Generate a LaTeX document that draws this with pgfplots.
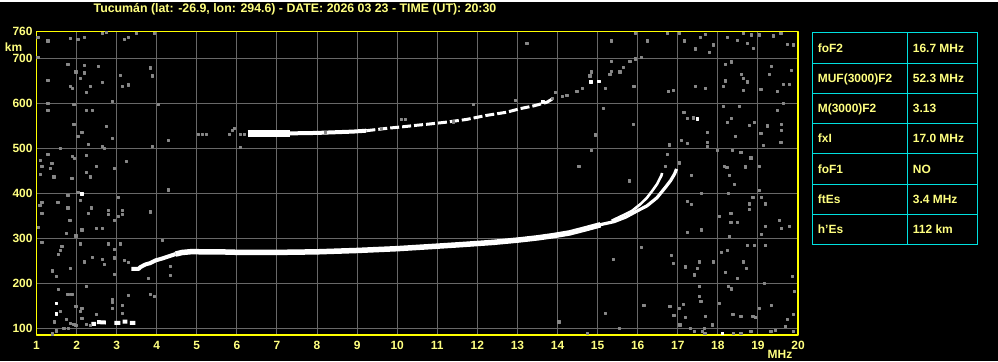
\documentclass[border=0pt]{standalone}
\usepackage{fontspec}
\setmainfont{Liberation Sans}
\usepackage{pgfplots}
\pgfplotsset{compat=1.18}
\definecolor{ylw}{RGB}{255,255,0}
\definecolor{ltxt}{RGB}{255,255,128}
\definecolor{gridc}{RGB}{104,104,104}
\definecolor{noise}{RGB}{135,135,135}
\definecolor{cyanb}{RGB}{0,224,224}
\begin{document}
\begin{tikzpicture}[x=1bp,y=1bp]
\fill[black] (0,0) rectangle (998,359);
\begin{axis}[
  at={(36.5bp,26bp)}, anchor=south west, scale only axis,
  width=761.5bp, height=303.5bp,
  xmin=1, xmax=20, ymin=86, ymax=760,
  xtick={1,...,20}, ytick={100,200,300,400,500,600,700,760},
  grid=major, major grid style={gridc, line width=1bp},
  axis line style={ylw, line width=1.3bp},
  major tick length=0pt,
  tick label style={font=\bfseries\fontsize{12}{12}\selectfont, text=ltxt},
  /pgf/number format/assume math mode=true,
  xticklabel style={yshift=-3bp},
  yticklabel style={xshift=-0.5bp},
  unbounded coords=jump,
  line cap=butt, line join=round,
]
% noise
\addplot[only marks, mark=square*, mark size=1.1bp, mark options={draw=noise, line width=0.4bp, fill=noise}] coordinates {
(1.03,748)(1.28,740)(1.84,746)(2.03,744)(2.19,748)(2.63,757)(2.73,758)(3.18,744)(3.29,748)(3.49,757)(3.94,756)(1.03,703)(1.78,688)(2.19,686)(2.19,669)(2.54,684)(1.98,671)(2.09,657)(3.09,664)(3.29,642)(3.14,639)(2.64,648)(2.34,639)(1.84,639)(1.89,635)(2.24,626)(1.28,653)(3.84,680)(3.88,662)(2.89,606)(1.28,601)(4.03,598)(1.93,598)(1.28,586)(2.24,586)(2.39,586)(2.73,550)(1.93,555)(2.13,537)(2.03,528)(2.89,523)(2.28,510)(1.59,501)(2.64,505)(2.69,501)(3.88,505)(4.28,519)(1.28,488)(2.24,485)(1.89,483)(1.94,479)(1.09,474)(1.38,468)(1.13,461)(1.34,456)(3.24,472)(2.49,461)(2.94,456)(2.24,447)(2.34,438)(1.09,443)(1.43,438)
(5.03,532)(5.13,532)(5.23,532)(5.80,532)(5.88,541)(5.93,546)(6.08,532)(6.19,532)(6.08,503)
(1.88,434)(2.03,404)(1.78,396)(3.03,392)(1.13,382)(1.53,382)(1.08,374)(2.09,386)(2.37,369)(2.28,357)(1.78,369)(2.78,364)(2.78,354)(3.13,364)(3.13,355)(3.03,351)(1.13,356)(3.83,360)(1.83,342)(2.94,342)(1.04,325)(2.13,320)(2.48,324)(2.64,324)(1.74,313)(1.98,307)(1.13,293)(2.09,289)(2.78,289)(3.09,289)(4.28,409)(4.13,297)(1.63,284)(1.59,275)(1.54,265)(2.94,276)(2.94,258)(2.39,259)(2.64,255)(2.19,249)(2.69,243)(3.19,252)(3.29,248)(1.84,235)(1.39,229)(1.49,217)(2.94,222)(3.79,213)(4.33,239)(4.33,219)(2.24,194)(1.54,188)(1.78,177)(1.88,177)(3.29,175)(3.84,177)(3.93,172)(2.88,165)(2.88,160)(1.98,151)(2.13,146)(2.09,139)(2.88,145)(3.14,152)(3.14,135)(1.59,139)(1.74,121)(1.44,116)(1.84,113)(1.79,101)(1.49,96)(1.68,101)(1.39,89)(1.93,110)(1.98,108)(2.13,124)(2.49,133)(2.24,111)(2.34,108)
(13.23,735)(11.89,598)(12.94,608)(10.1,565)(10.2,565)(11.4,560)(8.2,537)(9.6,545)
(13.86,612)(13.94,625)(14.11,616)(14.23,619)(14.48,627)(14.61,634)(14.80,662)(14.84,671)(15.19,634)(15.30,665)(15.34,673)(15.55,671)(15.63,681)(15.80,694)(15.94,700)(16.09,703)(15.34,694)
(15.94,757)(15.33,740)(16.23,740)(16.73,757)(17.03,757)(17.17,740)(17.44,722)(17.55,748)(17.68,755)(17.88,731)(17.79,714)(18.23,748)(18.48,741)(18.63,757)(18.83,753)(18.73,735)(18.88,723)(19.03,753)(19.38,751)(19.57,757)(19.73,732)(19.88,731)(18.19,688)(18.33,693)(18.59,666)(18.63,656)(18.19,651)(18.13,639)(18.73,649)(18.63,630)(19.07,632)(19.33,684)(19.28,666)(19.48,627)(19.63,643)(19.78,643)(19.83,675)(17.69,634)(17.44,639)(16.77,627)(16.88,630)(15.90,639)(15.14,590)(15.88,554)(14.94,531)(14.84,496)(17.15,581)(17.23,567)(17.38,569)(17.73,536)(18.13,595)(18.54,595)(18.33,567)(18.23,558)(18.44,528)(18.78,552)(18.90,558)(19.07,535)(19.23,551)(19.58,554)(19.58,541)(19.48,586)(19.63,601)(19.13,508)(17.73,515)(17.73,505)(17.08,519)(17.23,513)(16.78,509)(16.73,487)(17.98,497)(18.36,497)(18.57,493)(18.82,480)(19.57,514)
(17.03,469)(17.34,442)(16.69,461)(18.15,462)(18.22,459)(18.29,442)(18.40,421)(18.57,492)(18.82,479)(19.03,462)(18.69,460)(18.87,392)(19.03,407)(19.19,378)(19.09,392)(17.23,384)(17.33,377)(17.59,401)(18.25,401)(18.04,351)(18.32,356)(18.32,337)(18.48,337)(18.79,378)(18.78,365)(19.54,342)(19.19,328)(19.79,328)(19.59,323)(19.09,310)(17.23,315)(17.58,320)(18.29,305)(16.08,282)(16.83,264)(16.88,246)(17.19,238)(17.40,220)(17.48,234)(17.54,249)(17.88,249)(18.09,271)(18.23,275)(18.73,285)(18.90,285)(19.19,285)(18.63,249)(18.70,235)(18.19,226)(18.48,213)(19.15,202)(19.86,217)(17.54,194)(18.25,194)(18.33,189)(19.90,183)(17.53,172)(17.57,161)(17.13,155)(16.80,151)(17.03,145)(18.03,157)(19.03,146)(19.33,152)(16.13,152)(18.37,133)(18.57,128)(18.87,128)(18.94,125)(19.73,122)(19.88,133)(17.19,126)(17.69,128)(17.30,101)(17.40,94)(17.65,101)(17.86,109)(16.90,130)(17.05,109)(19.44,97)(19.69,105)(19.88,94)(19.32,94)(18.82,94)(18.57,90)(18.38,90)(17.67,90)(17.61,94)
(15.38,254)(15.19,135)(14.03,116)(15.53,101)(14.74,90)(14.53,461)(15.78,429)(16.15,152)(16.78,150)(16.88,131)
};
% isolated white echoes
\addplot[only marks, mark=square*, mark size=1.3bp, mark options={draw=white, fill=white}] coordinates {
(2.13,400)(1.49,157)(1.49,133)(17.48,567)(18.11,90)(13.63,604)(14.82,649)(15.03,650)
};
% Es trace
\addplot[white, line width=4bp] coordinates {
(2.37,111)(2.48,111) (2.49,nan) (2.51,115)(2.73,114) (2.8,nan) (2.94,113)(3.09,113) (3.1,nan) (3.15,116)(3.27,116) (3.3,nan) (3.33,113)(3.47,113)
};
% F2 trace, low part
\addplot[white, line width=4bp] coordinates {
(3.37,233)(3.55,233)(3.59,237)(3.72,243)(3.84,246)(3.97,252)(4.13,256)(4.30,261)(4.47,266)
};
% F2 trace, main part
\addplot[white, line width=5.5bp] coordinates {
(4.47,266)(4.63,269.5)(4.88,271.5)(5.13,271)(5.55,271)(5.97,270)(6.38,270)(6.80,270)(7.22,270)(8.0,271)(9.0,274)(10.0,278)(10.9,283)(11.6,287)(12.4,292)(13.0,297)(13.5,302)(13.9,307)(14.3,313)(14.65,321)(15.07,331)
};
% right branch
\addplot[white, line width=3.2bp] coordinates {
(15.0,330)(15.41,338)(15.7,348)(15.99,362)(16.23,373)(16.48,391)(16.69,414)(16.82,429)(16.92,444)(16.97,455)
};
% left branch
\addplot[white, line width=2.6bp] coordinates {
(15.35,340)(15.61,351)(15.86,362)(16.07,377)(16.23,391)(16.36,406)(16.48,421)(16.59,440)(16.61,446)
};
% second hop F2
\addplot[white, line width=6.5bp] coordinates {
(6.27,534)(6.8,534)(7.32,534)
};
\addplot[white, line width=4bp] coordinates {
(7.30,534)(7.98,535)(8.9,538)(9.23,540)
};
\addplot[white, line width=3bp, dash pattern=on 9bp off 3bp] coordinates {
(9.23,540)(9.82,546)(10.07,548)(10.48,552)(10.82,555)(11.23,559)(11.73,565)(12.23,574)(12.73,581)(13.07,589)(13.4,595)(13.73,603)(13.9,612)
};
\end{axis}
% labels
\node[text=ltxt, font=\bfseries\fontsize{12.4}{14}\selectfont] at (295,352) {Tucumán (lat: -26.9, lon: 294.6) - DATE: 2026 03 23 - TIME (UT): 20:30};
\node[text=ltxt, font=\bfseries\fontsize{12}{12}\selectfont] at (13.5,314) {km};
\node[text=ltxt, font=\bfseries\fontsize{12}{12}\selectfont] at (780,7) {MHz};
% parameter table
\begin{scope}[cyanb, line width=1.2bp]
\draw (812.3,116.7) rectangle (977.3,328.3);
\draw (907.3,116.7) -- (907.3,328.3);
\foreach \yy in {297.3,267.7,238,207.3,176.7,146.3} {\draw (812.3,\yy) -- (977.3,\yy);}
\end{scope}
\begin{scope}[every node/.style={anchor=west, inner sep=0pt, text=ltxt, text height=8.7bp, text depth=0pt, font=\bfseries\fontsize{12}{12}\selectfont}]
\node at (817.7,312.8) {foF2};        \node at (912.7,312.8) {16.7 MHz};
\node at (817.7,282.5) {MUF(3000)F2}; \node at (912.7,282.5) {52.3 MHz};
\node at (817.7,252.8) {M(3000)F2};   \node at (912.7,252.8) {3.13};
\node at (817.7,222.6) {fxI};         \node at (912.7,222.6) {17.0 MHz};
\node at (817.7,192.0) {foF1};        \node at (912.7,192.0) {NO};
\node at (817.7,161.5) {ftEs};        \node at (912.7,161.5) {3.4 MHz};
\node at (817.7,131.5) {h'Es};        \node at (912.7,131.5) {112 km};
\end{scope}
\end{tikzpicture}
\end{document}
